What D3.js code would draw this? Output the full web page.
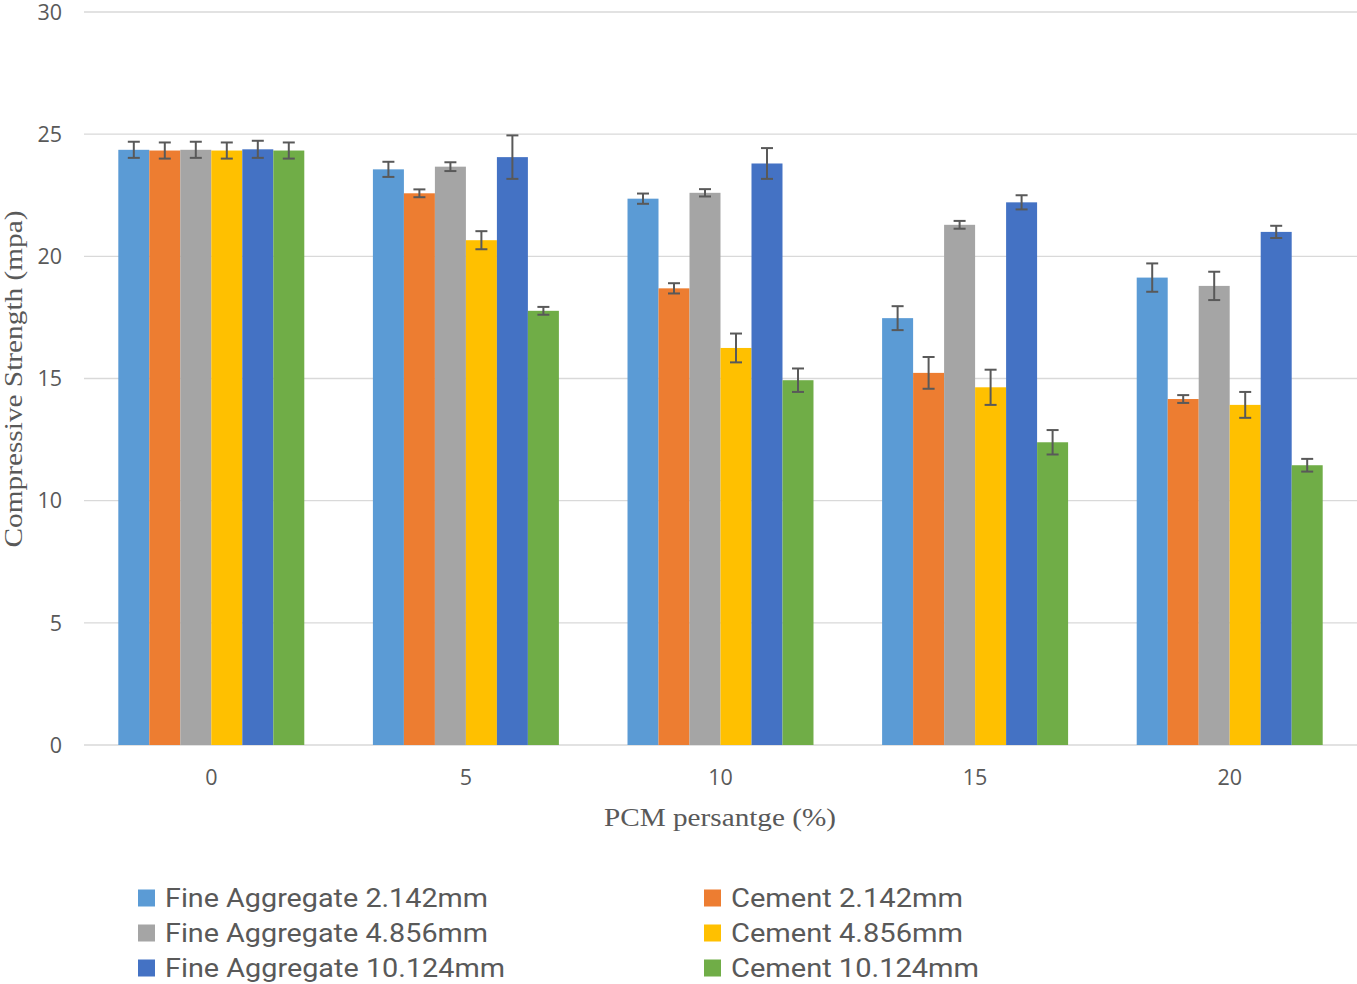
<!DOCTYPE html>
<html><head><meta charset="utf-8">
<script src="https://cdn.jsdelivr.net/npm/d3@7"></script>
<style>body{margin:0;background:#fff;} svg{display:block;}</style>
</head><body>
<svg id="chart" width="1357" height="984"></svg>
<script>
const categories = ["0","5","10","15","20"];
const seriesNames = ["Fine Aggregate 2.142mm","Cement 2.142mm","Fine Aggregate 4.856mm","Cement 4.856mm","Fine Aggregate 10.124mm","Cement 10.124mm"];
const seriesColors = ["#5B9BD5","#ED7D31","#A5A5A5","#FFC000","#4472C4","#70AD47"];
const fineAgg2142 = [24.36, 23.56, 22.36, 17.47, 19.13];
const cement2142 = [24.33, 22.58, 18.69, 15.23, 14.16];
const fineAgg4856 = [24.36, 23.67, 22.60, 21.29, 18.79];
const cement4856 = [24.33, 20.66, 16.25, 14.64, 13.92];
const fineAgg10124 = [24.38, 24.06, 23.80, 22.21, 21.00];
const cement10124 = [24.33, 17.77, 14.93, 12.39, 11.45];
const errFineAgg2142 = [0.33, 0.31, 0.21, 0.49, 0.58];
const errCement2142 = [0.33, 0.16, 0.21, 0.65, 0.16];
const errFineAgg4856 = [0.33, 0.18, 0.15, 0.16, 0.58];
const errCement4856 = [0.33, 0.37, 0.59, 0.72, 0.53];
const errFineAgg10124 = [0.35, 0.89, 0.63, 0.29, 0.25];
const errCement10124 = [0.33, 0.16, 0.48, 0.50, 0.26];
const yTicks = [0,5,10,15,20,25,30];

(function(){
const values = [fineAgg2142, cement2142, fineAgg4856, cement4856, fineAgg10124, cement10124];
const errors = [errFineAgg2142, errCement2142, errFineAgg4856, errCement4856, errFineAgg10124, errCement10124];

const svg = d3.select("#chart");
const pLeft = 84, pRight = 1357, pTop = 12, pBottom = 745;
const y = d3.scaleLinear().domain([0,30]).range([pBottom, pTop]);
const x0 = d3.scaleBand().domain(categories).range([pLeft, pRight]).padding(0);
const bw = x0.bandwidth();
const gap = bw * 0.2695;
const x1 = d3.scaleBand().domain(d3.range(seriesNames.length)).range([gap/2, bw - gap/2]).padding(0);

svg.append("g").selectAll("line").data(yTicks).join("line")
  .attr("x1", pLeft).attr("x2", pRight)
  .attr("y1", d => y(d)).attr("y2", d => y(d))
  .attr("stroke", "#d9d9d9").attr("stroke-width", 1.3);

svg.append("g").selectAll("text").data(yTicks).join("text")
  .attr("x", 62).attr("y", d => y(d)).attr("dy", "0.36em")
  .attr("text-anchor", "end")
  .attr("font-family", "'Open Sans', 'DejaVu Sans', sans-serif").attr("font-size", 21.5)
  .attr("fill", "#595959").text(d => d);

const groups = svg.append("g").selectAll("g").data(categories).join("g")
  .attr("transform", c => `translate(${x0(c)},0)`);
const rows = (c, ci) => values.map((s, si) => ({si, v: s[ci], e: errors[si][ci]}));
groups.selectAll("rect").data(rows).join("rect")
  .attr("x", d => x1(d.si)).attr("width", x1.bandwidth())
  .attr("y", d => y(d.v)).attr("height", d => y(0) - y(d.v))
  .attr("fill", d => seriesColors[d.si]);

const eb = groups.selectAll("g.err").data(rows).join("g").attr("class","err");
const cx = d => x1(d.si) + x1.bandwidth()/2;
eb.append("line")
  .attr("x1", cx).attr("x2", cx)
  .attr("y1", d => y(d.v + d.e)).attr("y2", d => y(d.v - d.e))
  .attr("stroke", "#595959").attr("stroke-width", 2);
[1,-1].forEach(sg => {
  eb.append("line")
    .attr("x1", d => cx(d) - 6).attr("x2", d => cx(d) + 6)
    .attr("y1", d => y(d.v + sg*d.e)).attr("y2", d => y(d.v + sg*d.e))
    .attr("stroke", "#595959").attr("stroke-width", 2);
});

svg.append("g").selectAll("text").data(categories).join("text")
  .attr("x", c => x0(c) + bw/2).attr("y", 777).attr("dy", "0.36em")
  .attr("text-anchor", "middle")
  .attr("font-family", "'Open Sans', 'DejaVu Sans', sans-serif").attr("font-size", 21.5)
  .attr("fill", "#595959").text(c => c);

svg.append("text")
  .attr("transform", "translate(22,379) rotate(-90)")
  .attr("text-anchor", "middle")
  .attr("font-family", "'Liberation Serif', 'Times New Roman', serif").attr("font-size", 26)
  .attr("textLength", 337).attr("lengthAdjust", "spacingAndGlyphs")
  .attr("fill", "#595959").text("Compressive Strength (mpa)");
svg.append("text")
  .attr("x", 720).attr("y", 826)
  .attr("text-anchor", "middle")
  .attr("font-family", "'Liberation Serif', 'Times New Roman', serif").attr("font-size", 26)
  .attr("textLength", 232).attr("lengthAdjust", "spacingAndGlyphs")
  .attr("fill", "#595959").text("PCM persantge (%)");

const legendItems = seriesNames.map((n, i) => ({n, i, col: i % 2, row: Math.floor(i / 2)}));
const colX = [138, 704];
const rowY = [898, 933, 968];
const lg = svg.append("g").selectAll("g").data(legendItems).join("g")
  .attr("transform", d => `translate(${colX[d.col]},${rowY[d.row]})`);
lg.append("rect").attr("x", 0).attr("y", -8.5).attr("width", 17).attr("height", 17)
  .attr("fill", d => seriesColors[d.i]);
const widths = {"Fine Aggregate 2.142mm":323, "Cement 2.142mm":232, "Fine Aggregate 4.856mm":323, "Cement 4.856mm":232, "Fine Aggregate 10.124mm":340, "Cement 10.124mm":248};
lg.append("text").attr("x", 27).attr("y", 9)
  .attr("font-family", "'Roboto', 'Open Sans', sans-serif").attr("font-size", 25)
  .attr("fill", "#595959")
  .attr("textLength", d => widths[d.n]).attr("lengthAdjust", "spacingAndGlyphs")
  .text(d => d.n);
})();
</script>
</body></html>
